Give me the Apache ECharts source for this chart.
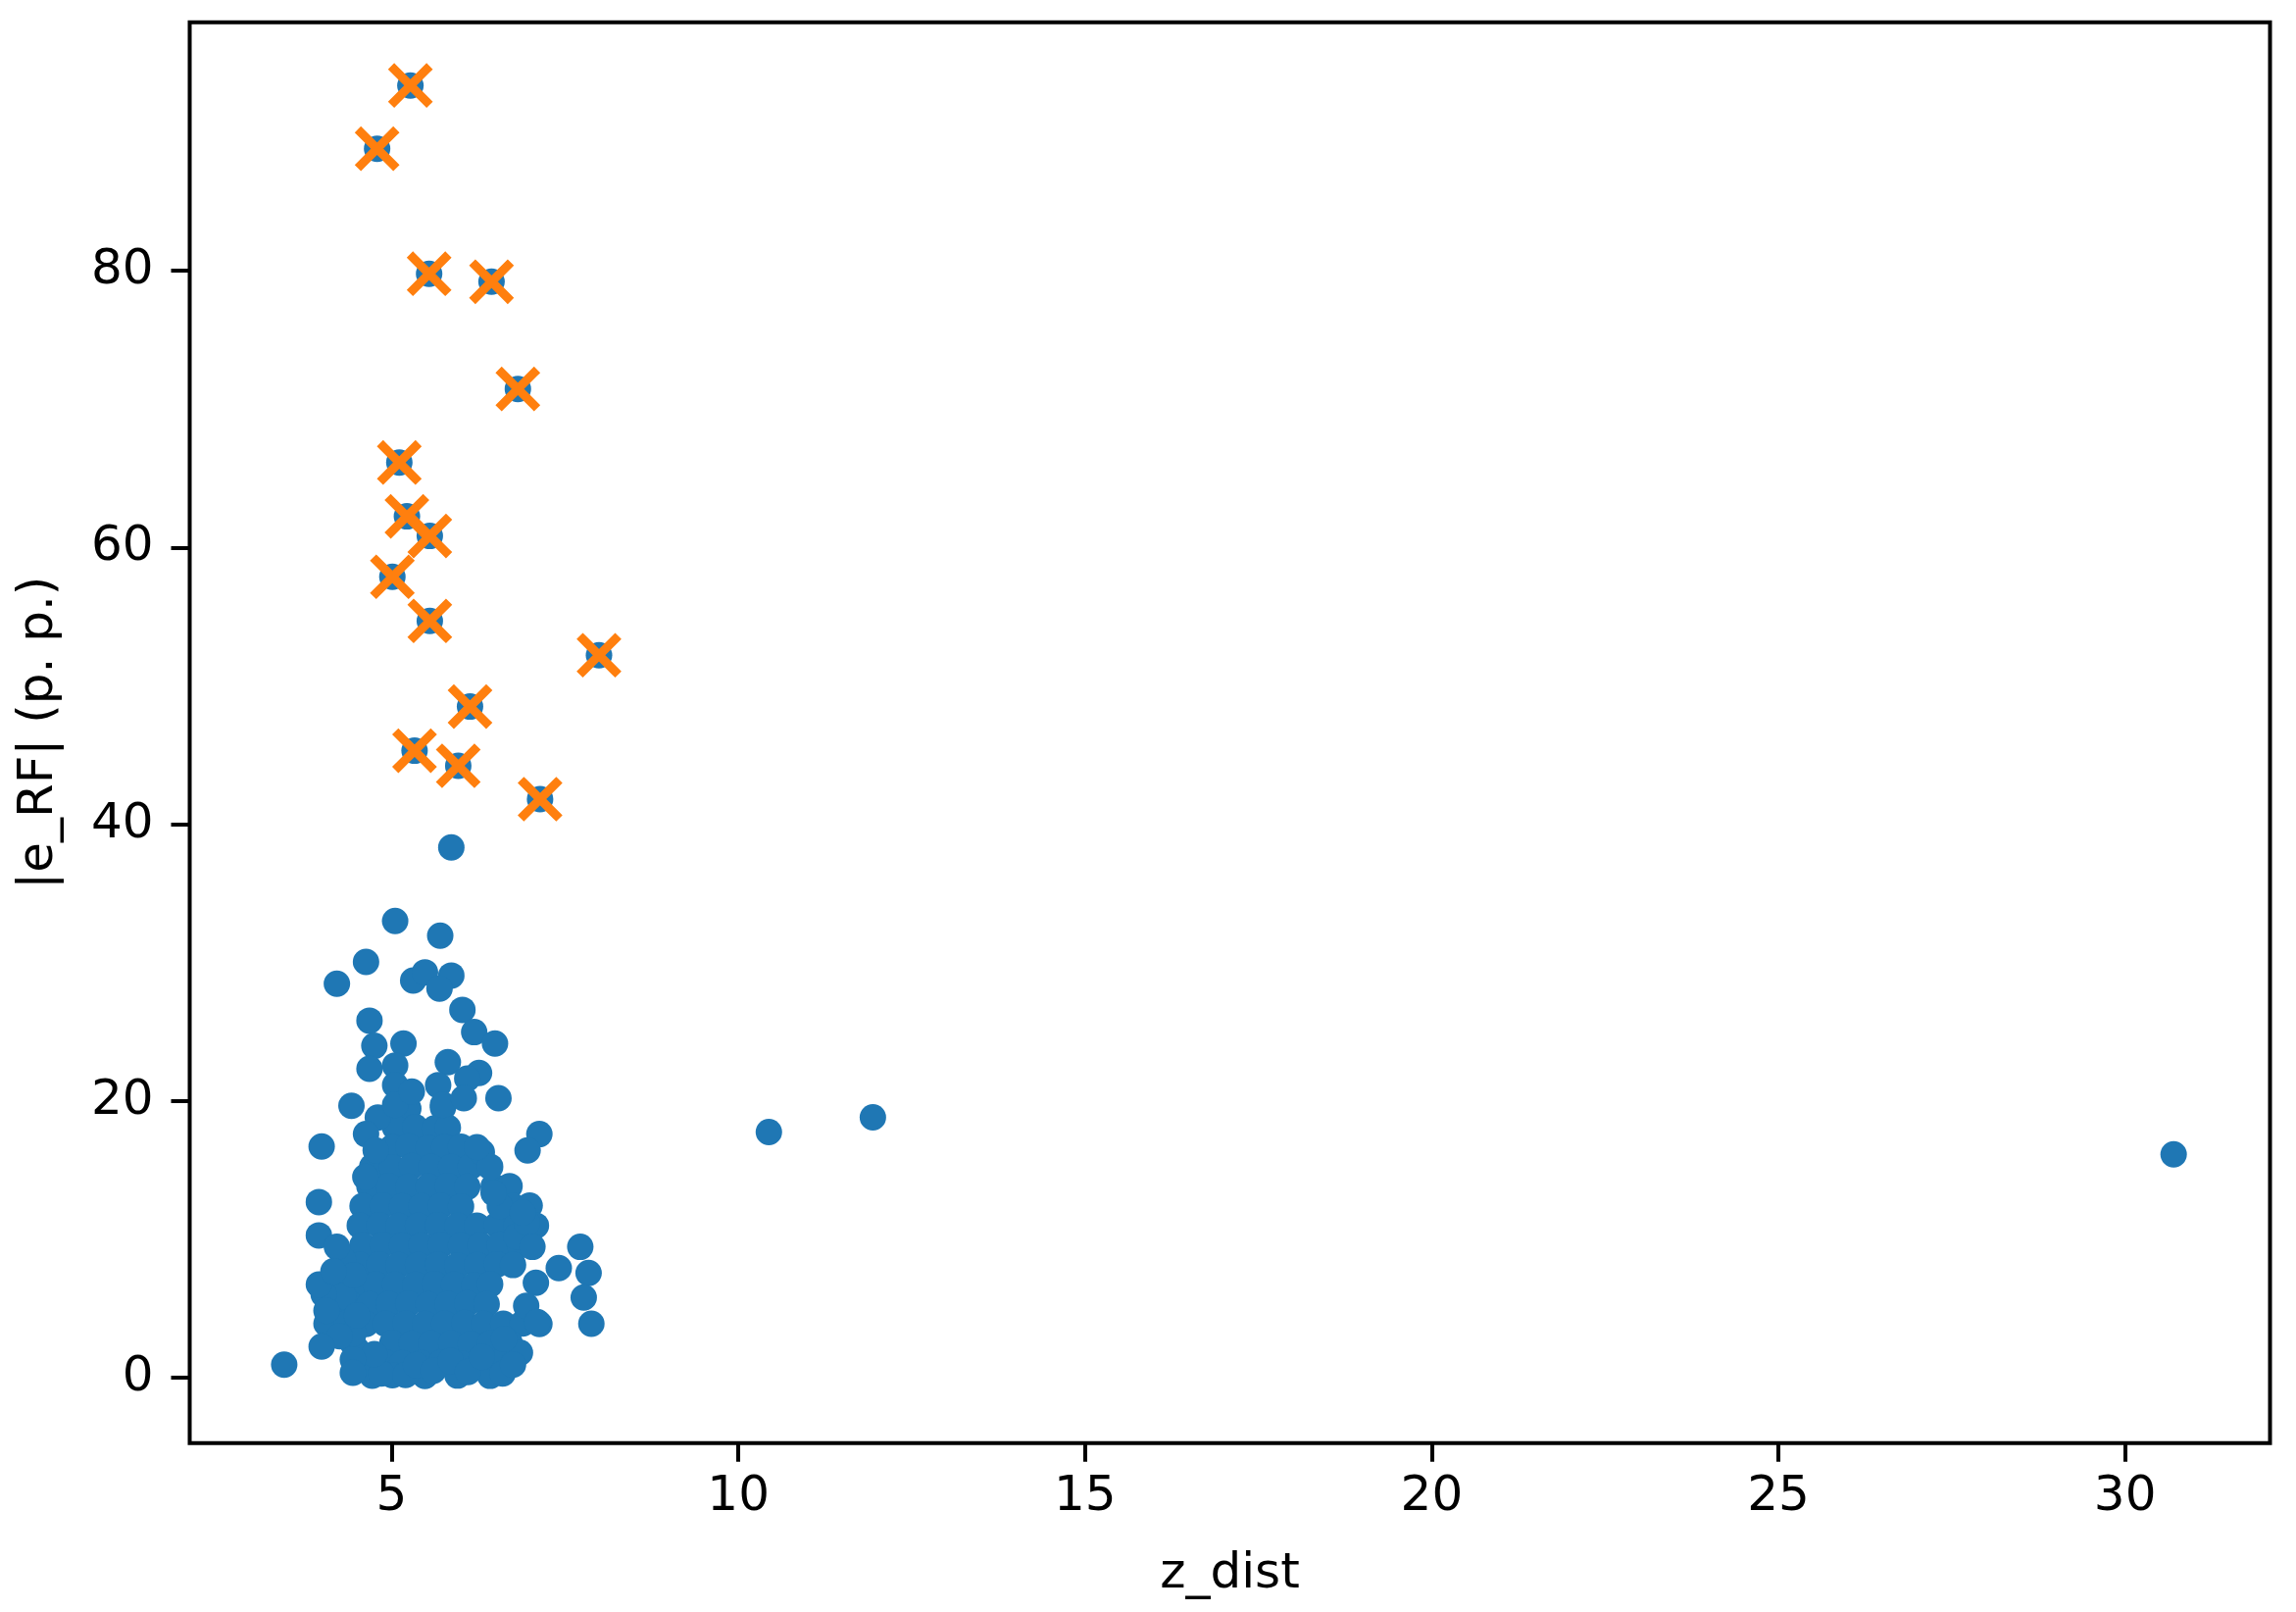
<!DOCTYPE html>
<html>
<head>
<meta charset="utf-8">
<script src="https://cdn.jsdelivr.net/npm/echarts@6/dist/echarts.min.js"></script>
<style>
  html, body { margin: 0; padding: 0; background: #fff; }
  #chart { width: 2342px; height: 1644px; }
</style>
</head>
<body>
<div id="chart"></div>
<script>
const xTicks = [5, 10, 15, 20, 25, 30]
const yTicks = [0, 20, 40, 60, 80]

// points marked with an orange x (they also sit in the blue set)
const flaggedZ = [5.27, 4.79, 5.54, 6.44, 6.82, 5.11, 5.22, 5.55, 5.01, 5.55, 7.99, 6.13, 5.33, 5.96, 7.14]
const flaggedE = [93.39, 88.82, 79.78, 79.21, 71.46, 66.14, 62.25, 60.83, 57.88, 54.69, 52.21, 48.50, 45.31, 44.22, 41.81]

// upper part of the cluster, dots that can be told apart
const upperZ = [5.86, 5.05, 5.70, 4.63, 4.21, 5.31, 5.48, 5.86, 5.69, 6.02, 6.19, 6.49, 4.68, 4.75,
  5.17, 4.68, 5.81, 6.26, 6.09, 6.54, 4.42, 5.05, 5.05, 5.05, 5.29, 5.67, 5.74, 6.04]
const upperE = [38.32, 33.00, 31.94, 30.05, 28.47, 28.70, 29.29, 29.06, 28.11, 26.58, 24.97, 24.15, 25.80, 23.98,
  24.15, 22.32, 22.80, 22.02, 21.62, 20.20, 19.65, 22.56, 21.14, 19.72, 20.67, 21.14, 19.72, 20.20]

// edge of the cluster below 20
const edgeZ = [3.99, 4.63, 4.77, 7.13, 6.96, 6.30, 6.42, 3.95, 3.95, 4.21, 7.72, 7.41, 7.84, 7.77, 7.88, 7.08,
  6.94, 7.10, 3.95, 4.16, 4.06, 3.99, 3.45, 4.44, 4.44, 6.75, 6.56, 6.89, 7.03, 6.47, 6.23]
const edgeE = [16.70, 17.60, 16.42, 17.60, 16.42, 16.30, 15.24, 12.69, 10.28, 9.45, 9.45, 7.92, 7.56, 5.79, 3.90, 6.85,
  5.19, 4.02, 6.73, 7.68, 4.84, 2.25, 0.94, 1.30, 0.35, 0.94, 12.40, 11.93, 9.45, 13.35, 16.65]

// dense core, estimated where the dots overlap
const coreZ = [
  5.05, 5.24, 5.74,
  5.05, 5.34, 5.62, 5.81,
  5.01, 5.24, 5.53, 5.76, 6.00,
  4.72, 5.01, 5.29, 5.57, 5.86, 6.14,
  4.68, 4.96, 5.24, 5.53, 5.81, 6.09, 6.47, 6.70,
  4.58, 4.87, 5.15, 5.43, 5.71, 6.00, 6.75, 6.99,
  4.54, 4.82, 5.10, 5.38, 5.67, 5.95, 6.23, 6.52, 6.80, 7.08,
  4.58, 4.87, 5.15, 5.43, 5.71, 6.00, 6.28, 6.56, 6.85,
  4.54, 4.82, 5.10, 5.38, 5.67, 5.95, 6.23, 6.52, 6.75,
  4.21, 4.49, 4.77, 5.05, 5.34, 5.62, 5.90, 6.19, 6.42,
  4.11, 4.39, 4.68, 4.96, 5.24, 5.53, 5.81, 6.09, 6.37,
  4.06, 4.35, 4.63, 4.91, 5.20, 5.48, 5.76, 6.05, 6.33, 6.61, 6.89, 7.13,
  4.44, 5.01, 5.29, 5.57, 5.86, 6.14, 6.42, 6.70,
  4.54, 4.91, 5.15, 5.43, 5.71, 6.00, 6.28, 6.56,
  4.72, 5.01, 5.48, 5.95, 6.42,
  4.60, 4.85, 5.20, 5.35, 5.60, 5.85, 6.10, 6.30, 6.60, 6.85, 4.50, 4.75, 4.45,
  4.25, 4.30, 4.50, 4.02, 4.30, 4.45, 4.62, 4.80, 6.62, 6.80, 6.95]
const coreE = [
  19.49, 19.45, 19.52,
  18.07, 18.10, 18.02, 18.07,
  16.65, 16.70, 16.60, 16.65, 16.68,
  15.24, 15.20, 15.28, 15.24, 15.21, 15.26,
  13.82, 13.85, 13.80, 13.82, 13.86, 13.79, 13.82, 13.84,
  12.40, 12.43, 12.38, 12.40, 12.42, 12.37, 12.40, 12.44,
  10.99, 11.02, 10.96, 10.99, 11.01, 10.97, 10.99, 11.03, 10.98, 10.99,
  9.57, 9.60, 9.55, 9.57, 9.59, 9.54, 9.57, 9.61, 9.56,
  8.15, 8.18, 8.13, 8.15, 8.17, 8.12, 8.15, 8.19, 8.14,
  6.73, 6.70, 6.75, 6.73, 6.71, 6.76, 6.73, 6.69, 6.74,
  5.32, 5.35, 5.30, 5.32, 5.34, 5.29, 5.32, 5.36, 5.31,
  3.90, 3.93, 3.88, 3.90, 3.92, 3.87, 3.90, 3.94, 3.89, 3.90, 3.92, 3.88,
  2.48, 2.51, 2.46, 2.48, 2.50, 2.45, 2.48, 2.52,
  1.06, 1.09, 1.04, 1.06, 1.08, 1.03, 1.06, 1.10,
  0.14, 0.17, 0.12, 0.15, 0.13,
  0.60, 0.30, 0.20, 0.90, 0.50, 1.20, 0.40, 1.50, 0.30, 1.80, 2.00, 1.70, 3.20,
  3.00, 5.90, 4.50, 6.00, 8.50, 7.40, 14.50, 18.80, 2.80, 10.20, 11.20]

// the three far points on the right
const farZ = [10.44, 11.94, 30.70]
const farE = [17.75, 18.81, 16.14]

const zip = (zs, es) => zs.map((z, i) => [z, es[i]])

const blueData = [].concat(
  zip(coreZ, coreE),
  zip(edgeZ, edgeE),
  zip(upperZ, upperE),
  zip(farZ, farE),
  zip(flaggedZ, flaggedE)
)

const font = 'DejaVu Sans'
const tickStyle = { color: '#000', width: 4 }

const chart = echarts.init(document.getElementById('chart'), null, { renderer: 'canvas' })

chart.setOption({
  animation: false,
  backgroundColor: '#fff',
  grid: {
    left: 193.5,
    top: 22.7,
    right: 26.5,
    bottom: 172.3,
    show: true,
    borderColor: '#000',
    borderWidth: 4,
    backgroundColor: 'transparent',
  },
  xAxis: {
    type: 'value',
    min: 2.087,
    max: 32.09,
    name: 'z_dist',
    nameLocation: 'middle',
    nameGap: 109,
    nameTextStyle: { fontFamily: font, fontSize: 50, color: '#000' },
    axisLine: { show: false, onZero: false },
    splitLine: { show: false },
    axisTick: { show: true, customValues: xTicks, length: 19, lineStyle: tickStyle },
    axisLabel: { customValues: xTicks, fontFamily: font, fontSize: 50, color: '#000', margin: 30 },
  },
  yAxis: {
    type: 'value',
    min: -4.73,
    max: 97.96,
    name: '|e_RF| (p. p.)',
    nameLocation: 'middle',
    nameGap: 128,
    nameRotate: 90,
    nameTextStyle: { fontFamily: font, fontSize: 50, color: '#000' },
    axisLine: { show: false, onZero: false },
    splitLine: { show: false },
    axisTick: { show: true, customValues: yTicks, length: 19, lineStyle: tickStyle },
    axisLabel: { customValues: yTicks, fontFamily: font, fontSize: 50, color: '#000', margin: 37 },
  },
  series: [
    {
      type: 'scatter',
      data: blueData,
      symbol: 'circle',
      symbolSize: 27,
      itemStyle: { color: '#1f77b4', opacity: 1 },
      emphasis: { disabled: true },
      silent: true,
    },
    {
      type: 'scatter',
      data: zip(flaggedZ, flaggedE),
      symbol: 'path://M0,0L10,10M10,0L0,10',
      symbolSize: 33,
      itemStyle: { color: '#ff7f0e', borderColor: '#ff7f0e', borderWidth: 9, borderCap: 'square', opacity: 1 },
      emphasis: { disabled: true },
      silent: true,
    },
  ],
})
</script>
</body>
</html>
